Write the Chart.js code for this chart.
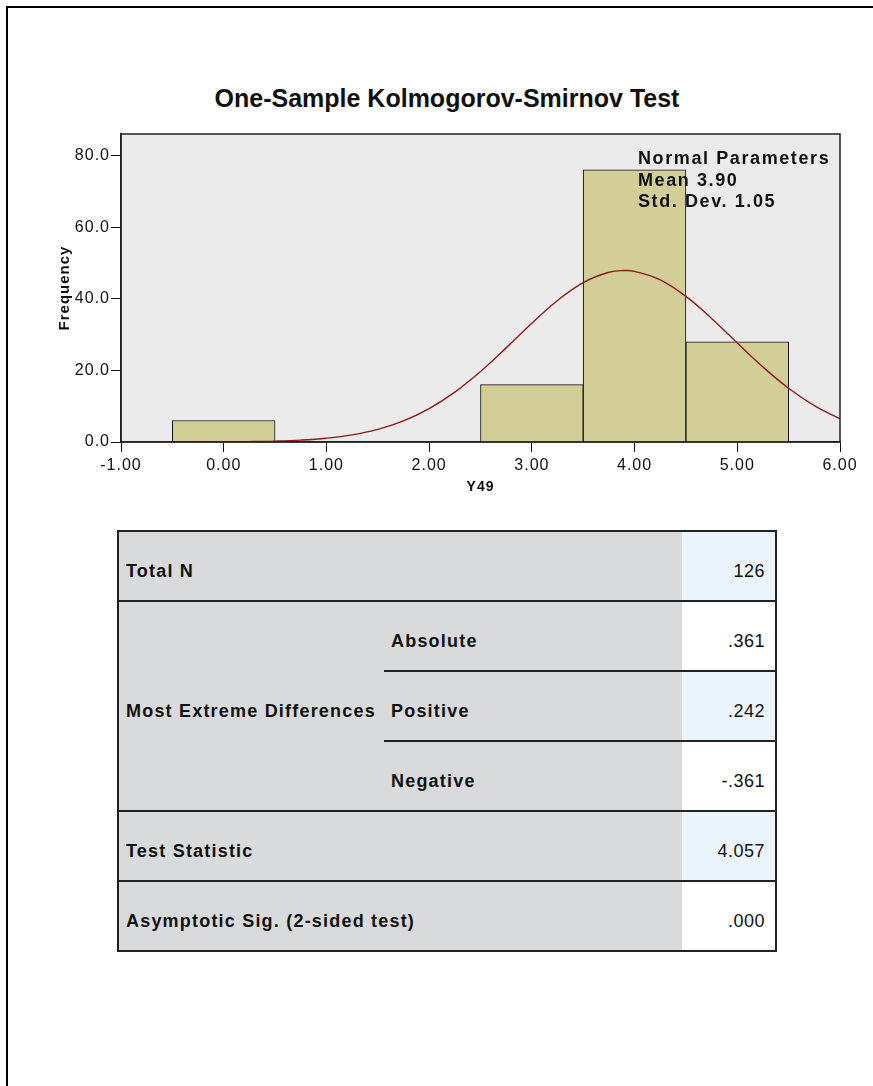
<!DOCTYPE html>
<html>
<head>
<meta charset="utf-8">
<script src="https://cdn.jsdelivr.net/npm/chart.js@4/dist/chart.umd.min.js"></script>
<style>
  body { margin: 0; width: 873px; height: 1086px; overflow: hidden; background: #fff; position: relative; font-family: 'Liberation Sans', Arial, sans-serif; }
  .frame { position: absolute; left: 6px; top: 6px; width: 900px; height: 1100px; border-left: 2px solid #000; border-top: 2px solid #000; }
  #title { position: absolute; left: 0; top: 84px; width: 894px; text-align: center; font-weight: bold; font-size: 25px; line-height: 28px; color: #111; }
  #chartBox { position: absolute; left: 0; top: 0; width: 873px; height: 500px; }
  #params { position: absolute; left: 638px; top: 148px; font-weight: bold; font-size: 18px; line-height: 21.5px; letter-spacing: 1.6px; color: #111; white-space: nowrap; }
  #ks { position: absolute; left: 117px; top: 530px; border-collapse: collapse; table-layout: fixed; width: 658px; border: 2px solid #222; }
  #ks td { height: 58px; padding: 10px 8px 0 7px; font-weight: bold; font-size: 18px; letter-spacing: 1.2px; color: #111; background: #d9dadc; border-top: 2px solid #222; white-space: nowrap; }
  #ks td.v { text-align: right; font-weight: normal; letter-spacing: 0.5px; padding-right: 10px; }
  #ks td.b { background: #eaf4fd; }
  #ks td.w { background: #fff; }
</style>
</head>
<body>
<div class="frame"></div>
<div id="title">One-Sample Kolmogorov-Smirnov Test</div>
<div id="chartBox"><canvas id="hist" width="873" height="500"></canvas></div>
<div id="params"></div>
<table id="ks">
  <colgroup><col style="width:266px"><col style="width:298px"><col style="width:94px"></colgroup>
  <tbody id="ksBody"></tbody>
</table>
<script>
// histogram bins (centres) and counts
const binCenters = [0, 3, 4, 5];
const binCounts = [6, 16, 76, 28];

// fitted normal curve
const curveX = [-1, -0.75, -0.5, -0.25, 0, 0.25, 0.5, 0.75, 1, 1.25, 1.5, 1.75, 2, 2.25, 2.5, 2.75,
  3, 3.25, 3.5, 3.75, 3.9, 4, 4.25, 4.5, 4.75, 5, 5.25, 5.5, 5.75, 6];
const curveY = [0.00, 0.00, 0.01, 0.02, 0.05, 0.11, 0.25, 0.53, 1.06, 1.98, 3.51, 5.88, 9.31, 13.92, 19.68, 26.28,
  33.16, 39.52, 44.52, 47.39, 47.87, 47.65, 45.29, 40.66, 34.50, 27.65, 20.95, 14.99, 10.14, 6.48];

const paramLines = ["Normal Parameters", "Mean 3.90", "Std. Dev. 1.05"];

// test table
const rowLabels = ["Total N", "Most Extreme Differences", "Test Statistic", "Asymptotic Sig. (2-sided test)"];
const diffLabels = ["Absolute", "Positive", "Negative"];
const rowValues = ["126", ".361", ".242", "-.361", "4.057", ".000"];

document.getElementById("params").innerHTML = paramLines.join("<br>");

const body = document.getElementById("ksBody");
const shade = (i) => (i % 2 === 0 ? "v b" : "v w");
let html = "";
html += `<tr><td colspan="2">${rowLabels[0]}</td><td class="${shade(0)}">${rowValues[0]}</td></tr>`;
diffLabels.forEach((d, k) => {
  html += "<tr>";
  if (k === 0) html += `<td rowspan="3">${rowLabels[1]}</td>`;
  html += `<td>${d}</td><td class="${shade(k + 1)}">${rowValues[k + 1]}</td></tr>`;
});
html += `<tr><td colspan="2">${rowLabels[2]}</td><td class="${shade(4)}">${rowValues[4]}</td></tr>`;
html += `<tr><td colspan="2">${rowLabels[3]}</td><td class="${shade(5)}">${rowValues[5]}</td></tr>`;
body.innerHTML = html;

const FONT = "'Liberation Sans', Arial, sans-serif";

const plotFrame = {
  id: "plotFrame",
  beforeDraw(chart) {
    const { ctx, chartArea: a } = chart;
    ctx.letterSpacing = "1px";
    ctx.save();
    ctx.fillStyle = "#ebebeb";
    ctx.fillRect(a.left, a.top, a.right - a.left, a.bottom - a.top);
    ctx.restore();
  },
  afterDraw(chart) {
    const { ctx, chartArea: a } = chart;
    ctx.save();
    ctx.strokeStyle = "#222";
    ctx.lineWidth = 1.5;
    ctx.strokeRect(a.left, a.top, a.right - a.left, a.bottom - a.top);
    ctx.restore();
  },
};

new Chart(document.getElementById("hist"), {
  type: "bar",
  data: {
    datasets: [
      {
        type: "line",
        data: curveX.map((x, i) => ({ x: x, y: curveY[i] })),
        borderColor: "#8e1b1b",
        borderWidth: 1.4,
        pointRadius: 0,
        tension: 0.4,
        fill: false,
        order: 0,
      },
      {
        type: "bar",
        data: binCenters.map((x, i) => ({ x: x, y: binCounts[i] })),
        backgroundColor: "#d3ce98",
        borderColor: "#111",
        borderWidth: 1,
        barPercentage: 1,
        categoryPercentage: 1,
        order: 1,
      },
    ],
  },
  options: {
    responsive: false,
    animation: false,
    layout: { padding: { top: 134, right: 33, left: 0, bottom: 0 } },
    plugins: { legend: { display: false }, tooltip: { enabled: false } },
    scales: {
      x: {
        type: "linear",
        min: -1,
        max: 6,
        offset: false,
        afterFit: (s) => { s.height = 58; },
        ticks: { stepSize: 1, color: "#111", padding: 4, font: { family: FONT, size: 16 }, callback: (v) => v.toFixed(2) },
        grid: { offset: false, drawOnChartArea: false, tickLength: 10, tickColor: "#111" },
        border: { color: "#111", width: 1.5 },
        title: { display: true, text: "Y49", color: "#111", padding: { top: 0, bottom: 4 }, font: { family: FONT, size: 14, weight: "bold" } },
      },
      y: {
        min: 0,
        max: 86,
        afterFit: (s) => { s.width = 121; },
        ticks: { stepSize: 20, includeBounds: false, color: "#111", padding: 1, font: { family: FONT, size: 16 }, callback: (v) => v.toFixed(1) },
        grid: { drawOnChartArea: false, tickLength: 10, tickColor: "#111" },
        border: { color: "#111", width: 1.5 },
        title: { display: true, text: "Frequency", color: "#111", padding: { top: 56, bottom: 0 }, font: { family: FONT, size: 15, weight: "bold" } },
      },
    },
  },
  plugins: [plotFrame],
});
</script>
</body>
</html>
